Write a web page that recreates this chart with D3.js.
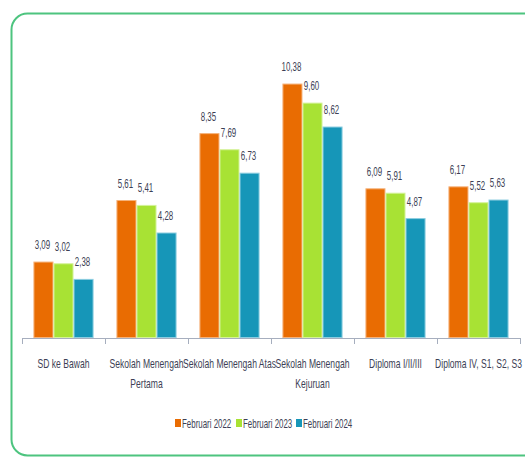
<!DOCTYPE html>
<html><head><meta charset="utf-8">
<script src="https://cdn.jsdelivr.net/npm/d3@7"></script>
<style>
body{margin:0;background:#fff;}
text{font-family:"Liberation Sans",Arial,sans-serif;}
</style></head>
<body><svg id="c" width="525" height="457"></svg>
<script>
const categories = [["SD ke Bawah"],["Sekolah Menengah","Pertama"],["Sekolah Menengah Atas"],["Sekolah Menengah","Kejuruan"],["Diploma I/II/III"],["Diploma IV, S1, S2, S3"]];
const seriesNames = ["Februari 2022","Februari 2023","Februari 2024"];
const feb2022 = [3.09,5.61,8.35,10.38,6.09,6.17];
const feb2023 = [3.02,5.41,7.69,9.60,5.91,5.52];
const feb2024 = [2.38,4.28,6.73,8.62,4.87,5.63];
const colors = ["#E96C02","#A8E234","#1696B8"];
const strokes = ["#F5B27A","#D4F29A","#8CCDE0"];
const series = [feb2022,feb2023,feb2024];
const TXT = "#3d3f55";
const SX = 0.66;

const svg = d3.select("#c");
svg.append("rect").attr("x",11.5).attr("y",13.5).attr("width",560).attr("height",442)
  .attr("rx",16).attr("fill","none").attr("stroke","#4DC47F").attr("stroke-width",2);

function label(parent, x, y, str, size, anchor){
  return parent.append("g").attr("transform",`translate(${x},${y}) scale(${SX},1)`)
    .append("text").attr("text-anchor",anchor||"middle").attr("font-size",size).attr("fill",TXT).text(str);
}

const x0 = d3.scaleBand().domain(d3.range(categories.length)).range([22,520]).paddingInner(0).paddingOuter(0);
const x1 = d3.scaleBand().domain(d3.range(3)).range([0,x0.bandwidth()]).paddingOuter(0.57).paddingInner(0);
const y = d3.scaleLinear().domain([0,12]).range([337.5,44.5]);

const fmt = v => d3.format(".2f")(v).replace(".",",");

series.forEach((s,si)=>{
  const g = svg.append("g");
  g.selectAll("rect").data(s).join("rect")
    .attr("x",(d,i)=>x0(i)+x1(si)+0.5)
    .attr("y",d=>y(d))
    .attr("width",x1.bandwidth()-1)
    .attr("height",d=>y(0)-y(d))
    .attr("fill",colors[si]).attr("stroke",strokes[si]).attr("stroke-width",1);
  s.forEach((d,i)=>label(g, x0(i)+x1(si)+x1.bandwidth()/2-1, y(d)-13, fmt(d), 12));
});

// axis
const ax = svg.append("g");
ax.append("line").attr("x1",22).attr("x2",520).attr("y1",338.5).attr("y2",338.5).attr("stroke","#A6AEBE").attr("stroke-width",1);
const tickPos = d3.range(categories.length+1).map(i=> i<categories.length ? x0(i) : x0(categories.length-1)+x0.bandwidth());
ax.selectAll("line.t").data(tickPos).join("line").attr("class","t")
  .attr("x1",d=>Math.round(d)+0.5).attr("x2",d=>Math.round(d)+0.5).attr("y1",338).attr("y2",344)
  .attr("stroke","#A6AEBE");

categories.forEach((lines,i)=>{
  lines.forEach((l,j)=>label(svg, x0(i)+x0.bandwidth()/2, 368+j*20, l, 13));
});

// legend
const legX = [175,236,296];
seriesNames.forEach((n,i)=>{
  svg.append("rect").attr("x",legX[i]).attr("y",419).attr("width",6).attr("height",8).attr("fill",colors[i]);
  label(svg, legX[i]+7, 427.5, n, 12, "start");
});
</script></body></html>
